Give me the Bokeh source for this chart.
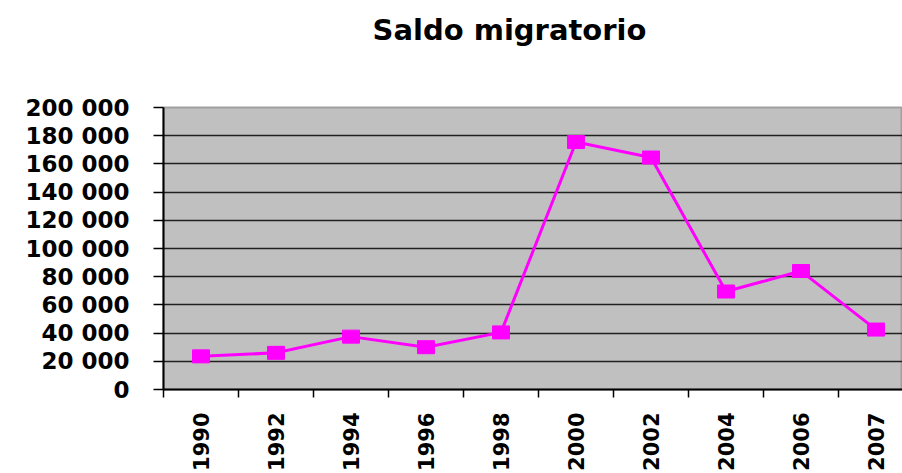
import math
from bokeh.plotting import figure
from bokeh.models import Range1d, FixedTicker, Title, LinearAxis
from bokeh.embed import file_html
from bokeh.resources import INLINE

# ---- data ----
years = ["1990", "1992", "1994", "1996", "1998", "2000", "2002", "2004", "2006", "2007"]
saldo = [23500, 26000, 37500, 30000, 40500, 175500, 164500, 69500, 84000, 42500]
y_ticks = [0, 20000, 40000, 60000, 80000, 100000, 120000, 140000, 160000, 180000, 200000]
y_labels = ["0", "20 000", "40 000", "60 000", "80 000", "100 000",
            "120 000", "140 000", "160 000", "180 000", "200 000"]
title_text = "Saldo migratorio"

# category centres (half-way between category boundaries)
x_pos = [i + 0.5 for i in range(len(years))]
x_bounds = list(range(len(years)))

FONT = "DejaVu Sans"

p = figure(width=902, height=473, output_backend="svg", toolbar_location=None,
           title=None,
           x_range=Range1d(0, 9.853), y_range=Range1d(0, 200000),
           min_border_left=163, min_border_right=0, min_border_top=107,
           min_border_bottom=82)

p.background_fill_color = "#c0c0c0"
p.border_fill_color = "white"
p.outline_line_color = "#a0a0a0"
p.outline_line_width = 2

# invisible spacer between the plot area and the title
spacer = LinearAxis(ticker=FixedTicker(ticks=[0]), major_tick_out=56, major_tick_in=0,
                    major_label_standoff=0, axis_line_color=None,
                    major_tick_line_color=None, minor_tick_line_color=None,
                    major_label_text_alpha=0, major_label_text_font_size="1px")
p.add_layout(spacer, "above")

# title
title = Title(text=title_text, text_font=FONT, text_font_size="29px",
              text_font_style="bold", text_color="black", align="left",
              offset=209, standoff=10)
p.add_layout(title, "above")

# grid
p.xgrid.grid_line_color = None
p.ygrid.ticker = FixedTicker(ticks=y_ticks)
p.ygrid.grid_line_color = "#202020"
p.ygrid.grid_line_width = 1.5

# y axis
ya = p.yaxis[0]
ya.ticker = FixedTicker(ticks=y_ticks)
ya.major_label_overrides = {t: l for t, l in zip(y_ticks, y_labels)}
ya.major_label_text_font = FONT
ya.major_label_text_font_size = "23px"
ya.major_label_text_font_style = "bold"
ya.major_label_text_color = "black"
ya.major_label_standoff = 24
ya.major_tick_out = 10
ya.major_tick_in = 0
ya.major_tick_line_color = "black"
ya.major_tick_line_width = 1.5
ya.minor_tick_line_color = None
ya.axis_line_color = "black"
ya.axis_line_width = 2

# x axis
xa = p.below[0]
xa.ticker = FixedTicker(ticks=x_pos, minor_ticks=x_bounds)
xa.major_label_overrides = {x: y for x, y in zip(x_pos, years)}
xa.major_label_orientation = math.pi / 2
xa.major_label_text_font = FONT
xa.major_label_text_font_size = "21px"
xa.major_label_text_font_style = "bold"
xa.major_label_text_color = "black"
xa.major_label_standoff = 15
xa.major_tick_out = 8
xa.major_tick_in = 0
xa.major_tick_line_color = None
xa.minor_tick_out = 8
xa.minor_tick_in = 0
xa.minor_tick_line_color = "black"
xa.minor_tick_line_width = 1.5
xa.axis_line_color = "black"
xa.axis_line_width = 2

# series
p.line(x_pos, saldo, line_color="#ff00ff", line_width=3)
p.rect(x_pos, saldo, width=17, height=13, width_units="screen", height_units="screen",
       fill_color="#ff00ff", line_color="#ff00ff")

open("out.html", "w").write(file_html(p, INLINE))
